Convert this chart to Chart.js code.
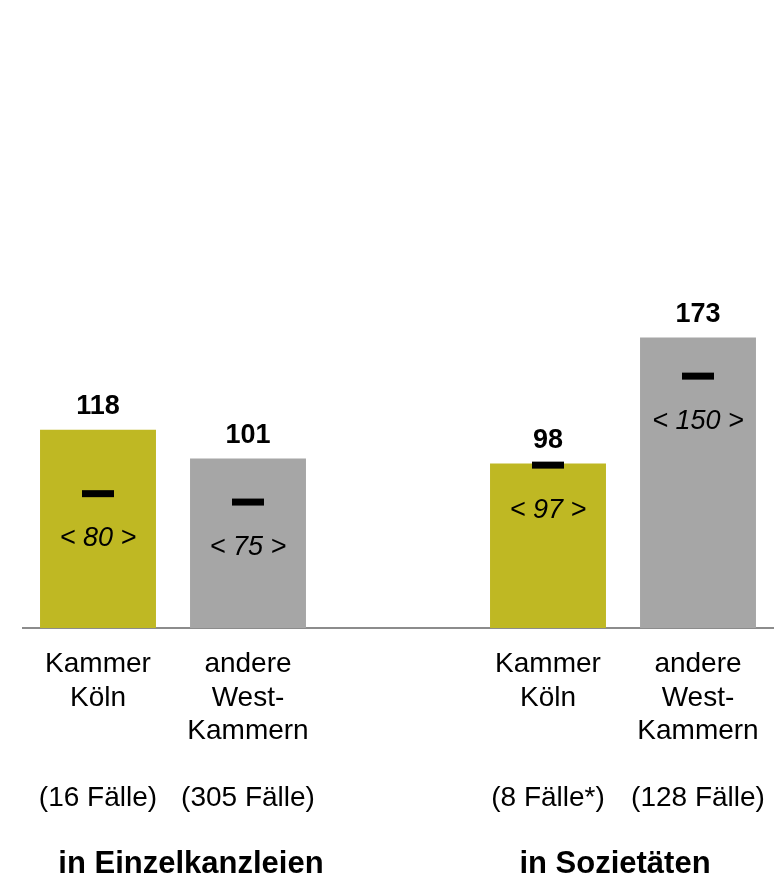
<!DOCTYPE html>
<html>
<head>
<meta charset="utf-8">
<script src="https://cdn.jsdelivr.net/npm/chart.js@4/dist/chart.umd.min.js"></script>
<style>
html,body{margin:0;padding:0;background:#fff;overflow:hidden;}
#wrap{width:782px;height:879px;position:relative;}
canvas{display:block;}
</style>
</head>
<body>
<div id="wrap"><canvas id="c"></canvas></div>
<script>
// Data
const categories = [
  ["Kammer","Köln","","","(16 Fälle)"],
  ["andere","West-","Kammern","","(305 Fälle)"],
  "",
  ["Kammer","Köln","","","(8 Fälle*)"],
  ["andere","West-","Kammern","","(128 Fälle)"]
];
const meanValues = [118, 101, null, 98, 173];
const medianValues = [80, 75, null, 97, 150];
const barColors = ["#BFB823", "#A6A6A6", "#ffffff", "#BFB823", "#A6A6A6"];
const groupLabels = ["in Einzelkanzleien", "in Sozietäten"];
const groupMembers = [[0, 1], [3, 4]];

const FONT = "'Liberation Sans', Arial, sans-serif";
const groupShift = [18, -8];

const labelPlugin = {
  id: 'labels',
  afterDatasetsDraw(chart) {
    const ctx = chart.ctx;
    const x = chart.scales.x, y = chart.scales.y;
    ctx.save();
    ctx.fillStyle = '#000';
    ctx.textAlign = 'center';
    ctx.textBaseline = 'middle';
    meanValues.forEach((v, i) => {
      if (v == null) return;
      const px = x.getPixelForValue(i);
      ctx.font = "bold 27px " + FONT;
      ctx.fillText(String(v), px, y.getPixelForValue(v) - 23);
    });
    medianValues.forEach((v, i) => {
      if (v == null) return;
      const px = x.getPixelForValue(i);
      ctx.font = "italic 27px " + FONT;
      ctx.fillText("< " + v + " >", px, y.getPixelForValue(v) + 45);
    });
    ctx.font = "bold 31px " + FONT;
    groupMembers.forEach((m, gi) => {
      const px = (x.getPixelForValue(m[0]) + x.getPixelForValue(m[1])) / 2 + groupShift[gi];
      ctx.fillText(groupLabels[gi], px, 864);
    });
    ctx.restore();
  }
};

new Chart(document.getElementById('c'), {
  data: {
    labels: categories,
    datasets: [
      {
        type: 'line',
        data: medianValues,
        showLine: false,
        pointStyle: 'line',
        pointRadius: 16,
        pointHoverRadius: 16,
        pointBorderWidth: 7,
        pointHoverBorderWidth: 7,
        borderColor: '#000',
        backgroundColor: '#000',
        order: 0
      },
      {
        type: 'bar',
        data: meanValues,
        backgroundColor: barColors,
        borderWidth: 0,
        categoryPercentage: 1,
        barPercentage: 0.773,
        order: 1
      }
    ]
  },
  options: {
    responsive: true,
    maintainAspectRatio: false,
    animation: false,
    layout: { autoPadding: false, padding: { left: 23, right: 9, top: 0, bottom: 0 } },
    plugins: { legend: { display: false }, tooltip: { enabled: false } },
    scales: {
      x: {
        grid: { display: false, drawTicks: false },
        border: { display: true, color: '#8C8C8C', width: 2 },
        ticks: {
          autoSkip: false,
          maxRotation: 0,
          minRotation: 0,
          padding: 20,
          color: '#000',
          font: { family: FONT, size: 28, lineHeight: 1.195 }
        },
        afterFit(scale) {
          scale.height = 251;
          scale.paddingLeft = 0;
          scale.paddingRight = 0;
        }
      },
      y: {
        display: false,
        min: 0,
        max: 374
      }
    }
  },
  plugins: [labelPlugin]
});
</script>
</body>
</html>
